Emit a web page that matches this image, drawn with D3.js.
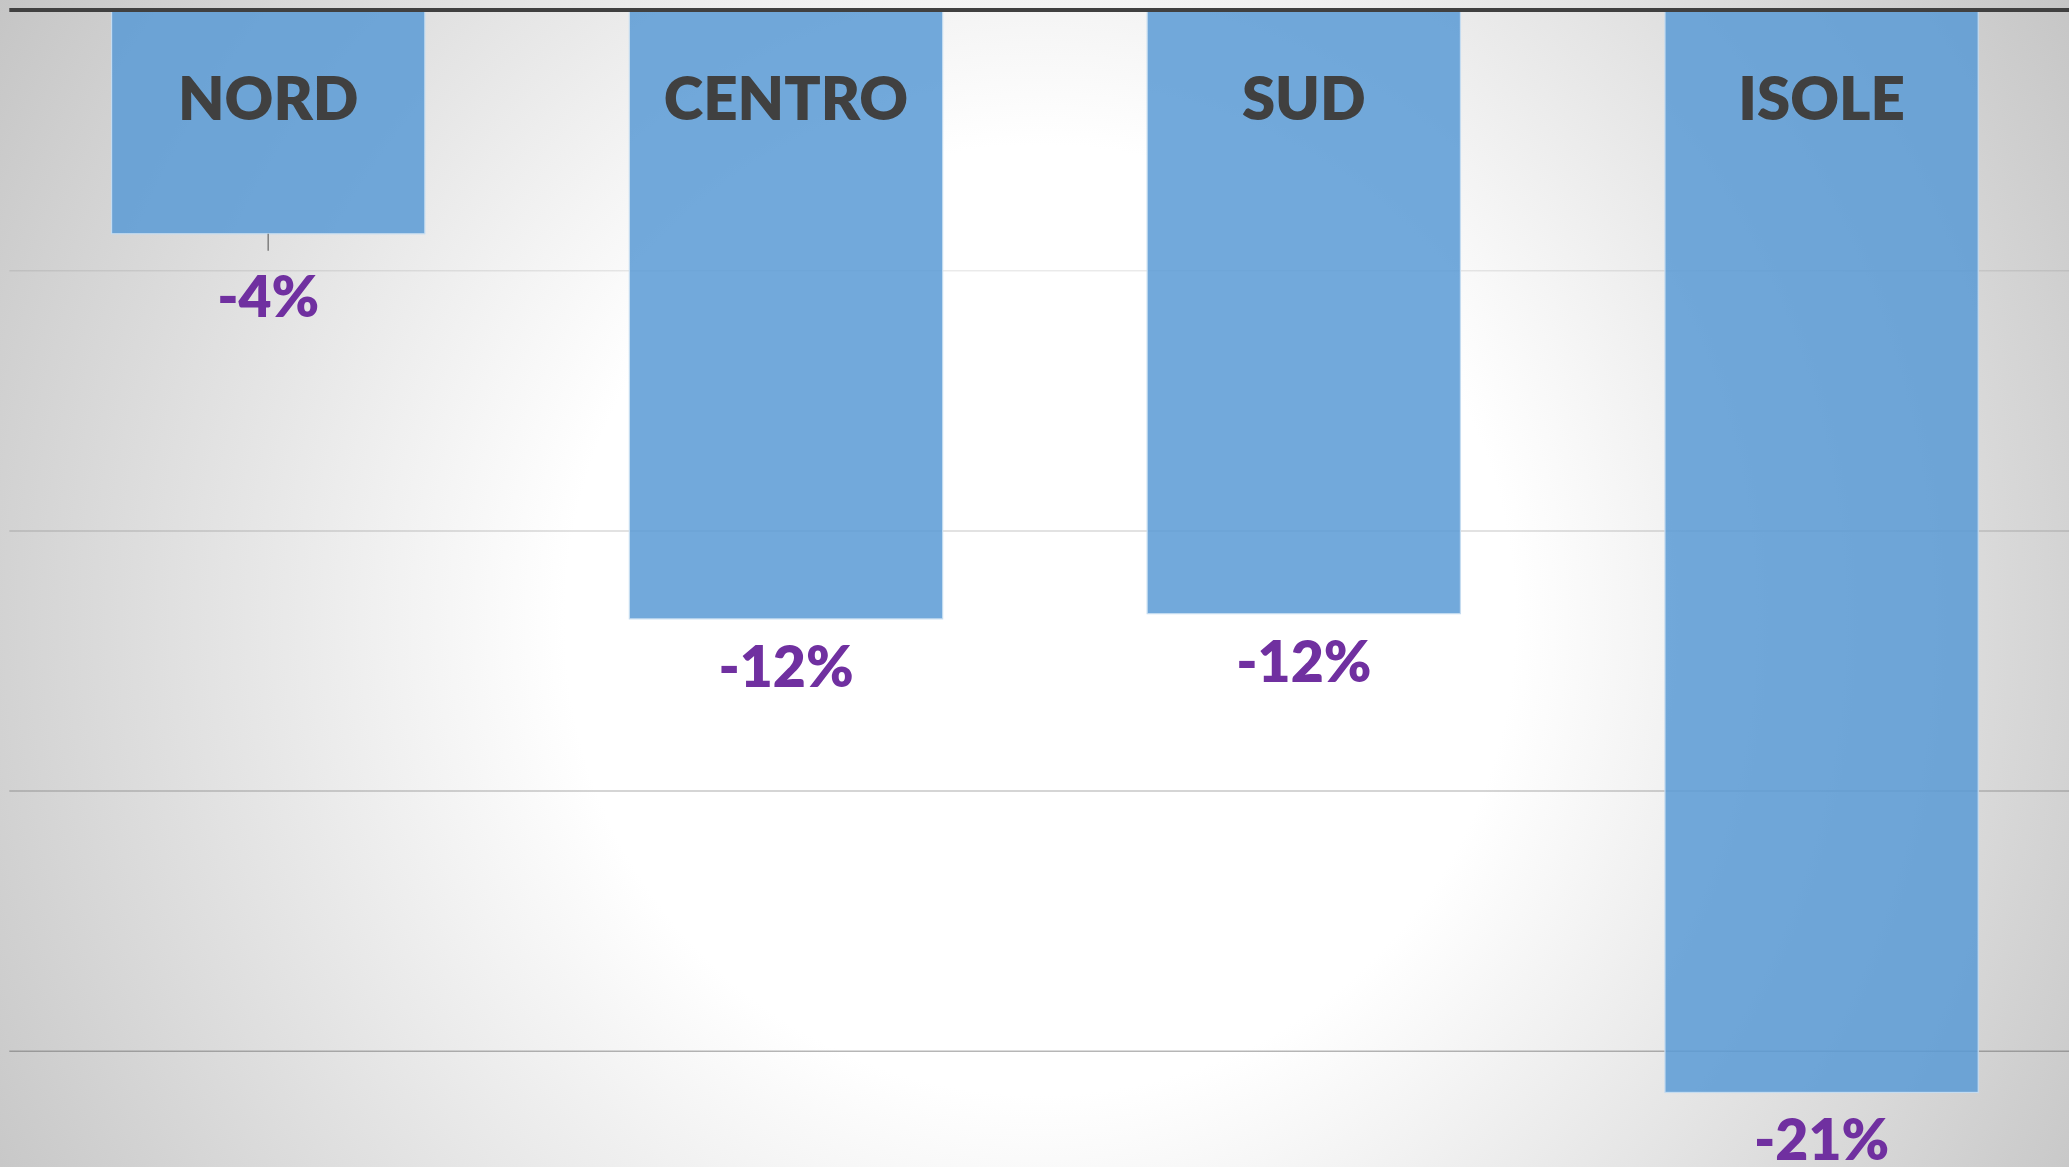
<!DOCTYPE html>
<html>
<head>
<meta charset="utf-8">
<script src="https://cdn.jsdelivr.net/npm/d3@7"></script>
<style>
  html, body { margin: 0; padding: 0; overflow: hidden; background: #fff; }
  svg { display: block; }
</style>
</head>
<body>
<svg id="chart"></svg>
<script>
// data
const regions = ["NORD", "CENTRO", "SUD", "ISOLE"];
const changes = [-0.043, -0.117, -0.116, -0.208];
const gridTicks = [-0.05, -0.10, -0.15, -0.20];
// the NORD label was dragged down in the original, so it has a leader line
const movedLabel = "NORD";

const width = 2069, height = 1167;
const data = regions.map((r, i) => ({ region: r, value: changes[i] }));

const svg = d3.select("#chart").attr("width", width).attr("height", height);

// slide background: soft radial light in the middle
const defs = svg.append("defs");
const grad = defs.append("radialGradient")
  .attr("id", "bg")
  .attr("gradientUnits", "userSpaceOnUse")
  .attr("cx", 1040).attr("cy", 620).attr("r", 1250);
grad.append("stop").attr("offset", 0).attr("stop-color", "#ffffff");
grad.append("stop").attr("offset", 0.38).attr("stop-color", "#ffffff");
grad.append("stop").attr("offset", 1).attr("stop-color", "#c2c2c2");

svg.append("rect").attr("width", width).attr("height", height).attr("fill", "url(#bg)");

const x = d3.scaleBand()
  .domain(regions)
  .range([9.3, 2080.5])
  .paddingInner(0.395)
  .paddingOuter(0.1975);

const y = d3.scaleLinear()
  .domain([0, -0.25])
  .range([10, 1311]);

const pct = d3.formatLocale({ decimal: ",", thousands: ".", grouping: [3], currency: ["", "€"], minus: "-" }).format(".0%");

// gridlines
const gridOpacity = d3.scaleLinear().domain([-0.05, -0.2]).range([0.12, 0.42]);
svg.append("g")
  .attr("transform", "translate(9.3,0)")
  .call(d3.axisLeft(y).tickValues(gridTicks).tickSize(-(width - 9.3)).tickFormat(""))
  .call(g => g.select(".domain").remove())
  .call(g => g.selectAll(".tick line")
    .attr("stroke", "#505050")
    .attr("stroke-width", 1.5)
    .attr("stroke-opacity", d => gridOpacity(d)));

// bars
svg.append("g")
  .selectAll("rect")
  .data(data)
  .join("rect")
  .attr("x", d => x(d.region))
  .attr("y", y(0))
  .attr("width", x.bandwidth())
  .attr("height", d => y(d.value) - y(0))
  .attr("fill", "#5b9bd5")
  .attr("fill-opacity", 0.86)
  .attr("stroke", "#c5dcf0")
  .attr("stroke-width", 1.2);

// leader line for the moved label
svg.append("g")
  .selectAll("line")
  .data(data.filter(d => d.region === movedLabel))
  .join("line")
  .attr("x1", d => x(d.region) + x.bandwidth() / 2)
  .attr("x2", d => x(d.region) + x.bandwidth() / 2)
  .attr("y1", d => y(d.value))
  .attr("y2", d => y(d.value) + 17)
  .attr("stroke", "#7f7f7f")
  .attr("stroke-width", 1.5);

// value labels
svg.append("g")
  .selectAll("text")
  .data(data)
  .join("text")
  .attr("x", d => x(d.region) + x.bandwidth() / 2)
  .attr("y", d => y(d.value) + (d.region === movedLabel ? 83 : 68))
  .attr("text-anchor", "middle")
  .attr("font-family", "Lato, 'Open Sans', sans-serif")
  .attr("font-weight", 800)
  .attr("font-size", 57)
  .attr("fill", "#7030a0")
  .text(d => pct(d.value));

// category axis at zero, labels sitting inside the bars
svg.append("g")
  .attr("transform", `translate(0,${y(0)})`)
  .call(d3.axisBottom(x).tickSize(0).tickPadding(0))
  .call(g => g.select(".domain").remove())
  .call(g => g.selectAll(".tick text")
    .attr("y", 110)
    .attr("dy", 0)
    .attr("font-family", "Lato, 'Open Sans', sans-serif")
    .attr("font-weight", 800)
    .attr("font-size", 60)
    .attr("fill", "#404040"));

svg.append("line")
  .attr("x1", 9.3).attr("x2", width)
  .attr("y1", y(0)).attr("y2", y(0))
  .attr("stroke", "#404040")
  .attr("stroke-width", 4);
</script>
</body>
</html>
